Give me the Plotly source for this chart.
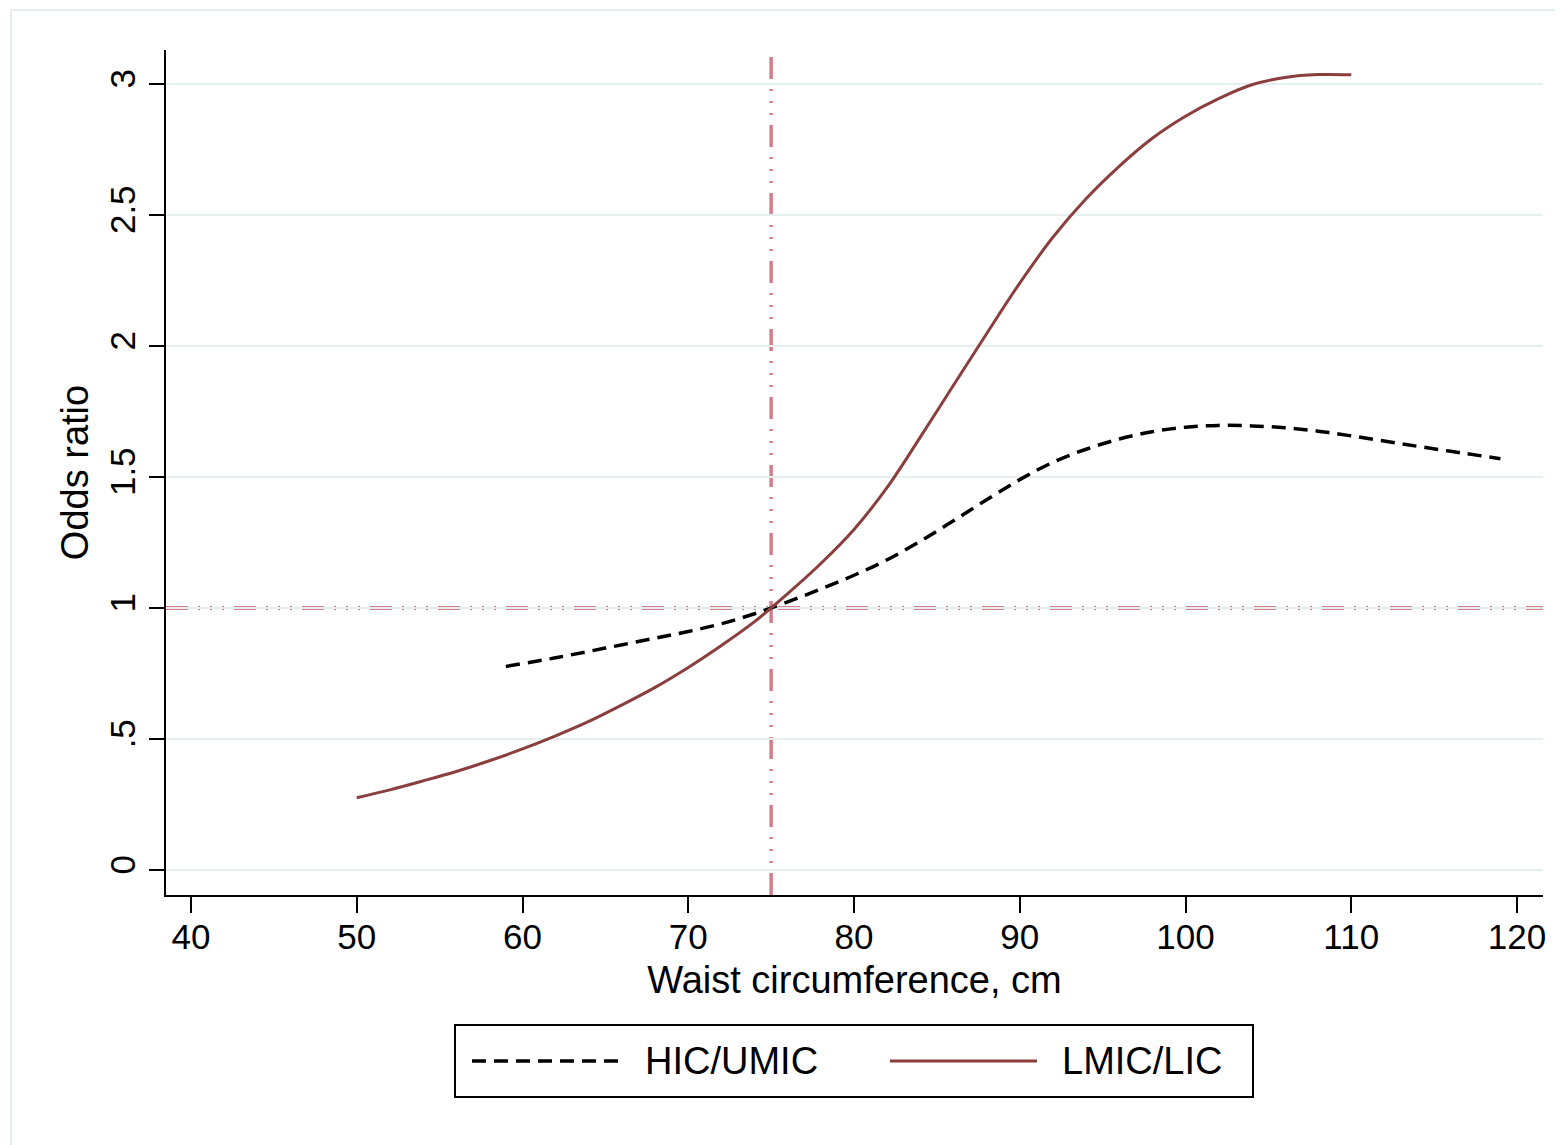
import plotly.graph_objects as go

# ---------------- data ----------------
hic_x = [59, 62, 65, 68, 70, 72, 74, 76, 78, 80, 82, 84, 86, 88, 90, 92, 94, 96, 98,
         100, 102, 104, 106, 108, 110, 113, 116, 119]
hic_y = [0.777, 0.81, 0.847, 0.885, 0.91, 0.94, 0.978, 1.023, 1.073, 1.125, 1.184, 1.255,
         1.333, 1.413, 1.49, 1.556, 1.606, 1.645, 1.673, 1.69, 1.697, 1.695, 1.688, 1.675,
         1.657, 1.627, 1.598, 1.57]

lmic_x = [50, 52, 54, 56, 58, 60, 62, 64, 66, 68, 70, 72, 74, 76, 78, 80, 82, 84, 86,
          88, 90, 92, 94, 96, 98, 100, 102, 104, 106, 108, 110]
lmic_y = [0.276, 0.306, 0.34, 0.376, 0.417, 0.462, 0.512, 0.567, 0.63, 0.697, 0.773,
          0.857, 0.948, 1.055, 1.17, 1.30, 1.46, 1.652, 1.85, 2.047, 2.24, 2.415, 2.562,
          2.686, 2.793, 2.877, 2.944, 2.997, 3.025, 3.036, 3.035]

series_names = ["HIC/UMIC", "LMIC/LIC"]
x_ticks = [40, 50, 60, 70, 80, 90, 100, 110, 120]
y_ticks = [0, 0.5, 1, 1.5, 2, 2.5, 3]
y_ticktext = ["0", ".5", "1", "1.5", "2", "2.5", "3"]
ref_x = 75
ref_y = 1

# ---------------- styling ----------------
OFF = 8  # page body margin in the browser
W, H = 1563 - OFF, 1145 - OFF
ML, MR, MT, MB = 166 - OFF, 20, 50 - OFF, 250
FONT = "Liberation Sans, Arial, Helvetica, sans-serif"
RED = "#8B3E3E"
PINK = "#D27F8B"
GRID = "#E6EEF0"
REFDASH = "22px,10px,2px,10px,2px,10px,2px,10px"

pw = W - ML - MR
ph = H - MT - MB


def px2paper_x(px):
    return (px - OFF - ML) / pw


def px2paper_y(py):
    return (H - MB - (py - OFF)) / ph


fig = go.Figure()

fig.add_trace(go.Scatter(
    x=hic_x, y=hic_y, mode="lines", name=series_names[0],
    line=dict(color="black", width=3.5, dash="14px,8px", shape="spline", smoothing=1.0),
    showlegend=False,
))
fig.add_trace(go.Scatter(
    x=lmic_x, y=lmic_y, mode="lines", name=series_names[1],
    line=dict(color=RED, width=3, shape="spline", smoothing=1.0),
    showlegend=False,
))

shapes = []
# reference lines
shapes.append(dict(type="line", xref="x", yref="paper", x0=ref_x, x1=ref_x, y0=0, y1=1,
                   line=dict(color=PINK, width=3.5, dash=REFDASH), layer="between"))
shapes.append(dict(type="line", xref="paper", yref="y", x0=0, x1=1, y0=ref_y, y1=ref_y,
                   line=dict(color=PINK, width=4, dash=REFDASH), layer="between"))

# outer light frame (top and left visible)
shapes.append(dict(type="rect", xref="paper", yref="paper",
                   x0=px2paper_x(11), x1=px2paper_x(1563 + 20),
                   y0=px2paper_y(1145 + 20), y1=px2paper_y(10),
                   line=dict(color="#E3ECEE", width=2), layer="below"))

# manual legend box
shapes.append(dict(type="rect", xref="paper", yref="paper",
                   x0=px2paper_x(455), x1=px2paper_x(1253),
                   y0=px2paper_y(1097), y1=px2paper_y(1025),
                   line=dict(color="black", width=2), fillcolor="white"))
leg_y = px2paper_y(1061)
shapes.append(dict(type="line", xref="paper", yref="paper",
                   x0=px2paper_x(472), x1=px2paper_x(622), y0=leg_y, y1=leg_y,
                   line=dict(color="black", width=3.5, dash="14px,8px")))
shapes.append(dict(type="line", xref="paper", yref="paper",
                   x0=px2paper_x(890), x1=px2paper_x(1037), y0=leg_y, y1=leg_y,
                   line=dict(color=RED, width=3)))

annotations = [
    dict(text=series_names[0], xref="paper", yref="paper", x=px2paper_x(643), y=leg_y,
         xanchor="left", yanchor="middle", showarrow=False,
         font=dict(family=FONT, size=38, color="black")),
    dict(text=series_names[1], xref="paper", yref="paper", x=px2paper_x(1060), y=leg_y,
         xanchor="left", yanchor="middle", showarrow=False,
         font=dict(family=FONT, size=38, color="black")),
]

x0_range = 40 - (191 - 166) / 16.575
x1_range = 120 + (1563 - MR - 1517) / 16.575
y0_range = -(895 - 870) / 262.0
y1_range = 3 + (84 - 50) / 262.0

fig.update_layout(
    width=W, height=H,
    margin=dict(l=ML, r=MR, t=MT, b=MB),
    paper_bgcolor="white", plot_bgcolor="white",
    font=dict(family=FONT, size=35, color="black"),
    shapes=shapes, annotations=annotations,
    showlegend=False,
    xaxis=dict(
        range=[x0_range, x1_range], tickvals=x_ticks,
        ticks="outside", ticklen=16, tickwidth=2, tickcolor="black",
        showline=True, linecolor="black", linewidth=2,
        showgrid=False, zeroline=False,
        ticklabelstandoff=-6,
        tickfont=dict(family=FONT, size=35, color="black"),
        title=dict(text="Waist circumference, cm", standoff=11,
                   font=dict(family=FONT, size=38, color="black")),
    ),
    yaxis=dict(
        range=[y0_range, y1_range], tickvals=y_ticks, ticktext=y_ticktext,
        tickangle=-90,
        ticks="outside", ticklen=15, tickwidth=2, tickcolor="black",
        showline=True, linecolor="black", linewidth=2,
        showgrid=True, gridcolor=GRID, gridwidth=2,
        zeroline=False,
        tickfont=dict(family=FONT, size=35, color="black"),
        title=dict(text="Odds ratio", standoff=3,
                   font=dict(family=FONT, size=38, color="black")),
    ),
)

fig.write_html("out.html")
